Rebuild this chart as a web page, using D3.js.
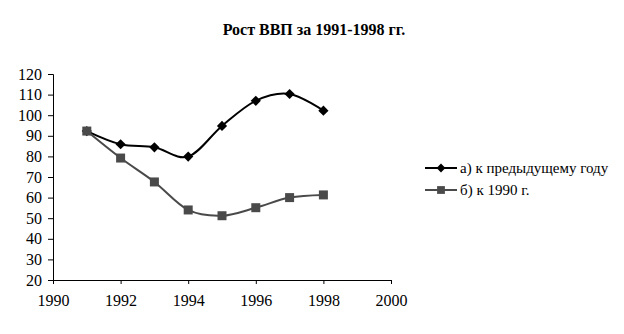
<!DOCTYPE html>
<html>
<head>
<meta charset="utf-8">
<script src="https://cdn.jsdelivr.net/npm/d3@7"></script>
<style>
  body { margin: 0; background: #fff; }
  svg text { font-family: "Times New Roman", "Liberation Serif", "DejaVu Serif", serif; fill: #000; }
</style>
</head>
<body>
<div class="canvas"></div>
<script>
// data
const years = [1991, 1992, 1993, 1994, 1995, 1996, 1997, 1998]
const prevYear = [92.3, 85.9, 84.4, 79.9, 94.8, 107, 110.3, 102.2]
const to1990 = [92.3, 79.2, 67.6, 54, 51.2, 55.1, 60, 61.3]
const seriesNames = ['а) к предыдущему году', 'б) к 1990 г.']
const xTicks = [1990, 1992, 1994, 1996, 1998, 2000]
const yTicks = [20, 30, 40, 50, 60, 70, 80, 90, 100, 110, 120]

const dims = {width: 624, height: 334}
const plot = {left: 53, right: 391, top: 74, bottom: 280}

const svg = d3.select('.canvas')
    .append('svg')
    .attr('width', dims.width)
    .attr('height', dims.height)

svg.append('text')
    .attr('x', 314)
    .attr('y', 35)
    .attr('text-anchor', 'middle')
    .style('font-size', '16px')
    .style('font-weight', 'bold')
    .text('Рост ВВП за 1991-1998 гг.')

const x = d3.scaleLinear().domain([1990, 2000]).range([plot.left, plot.right])
const y = d3.scaleLinear().domain([20, 120]).range([plot.bottom, plot.top])

svg.append('g')
    .attr('transform', `translate(0,${plot.bottom})`)
    .call(d3.axisBottom(x).tickValues(xTicks).tickFormat(d3.format('d')).tickSize(4).tickPadding(11))
svg.append('g')
    .attr('transform', `translate(${plot.left},0)`)
    .call(d3.axisLeft(y).tickValues(yTicks).tickSize(5).tickPadding(6))

svg.selectAll('.domain').attr('stroke', '#000')
svg.selectAll('.tick line').attr('stroke', '#000')
svg.selectAll('.tick text')
    .attr('fill', '#000')
    .style('font-size', '16px')
svg.selectAll('g').attr('font-family', null).attr('font-size', null)

const series = [
  {name: seriesNames[0], values: prevYear, colour: '#000', shape: d3.symbolSquare, size: 52, rot: 45},
  {name: seriesNames[1], values: to1990, colour: '#4a4a4a', shape: d3.symbolSquare, size: 81, rot: 0}
]

const line = d3.line()
    .x((d, i) => x(years[i]))
    .y(d => y(d))
    .curve(d3.curveCardinal.tension(0))

series.forEach(s => {
  const g = svg.append('g')
  g.append('path')
      .attr('d', line(s.values))
      .attr('fill', 'none')
      .attr('stroke', s.colour)
      .attr('stroke-width', 2)
  g.selectAll('path.pt')
      .data(s.values)
      .enter()
      .append('path')
      .attr('class', 'pt')
      .attr('transform', (d, i) => `translate(${x(years[i])},${y(d)}) rotate(${s.rot})`)
      .attr('d', d3.symbol().type(s.shape).size(s.size))
      .attr('fill', s.colour)
})

// legend
const legendGroup = svg.append('g').attr('transform', 'translate(425,168)')
series.forEach((s, i) => {
  const row = legendGroup.append('g').attr('transform', `translate(0,${i * 22})`)
  row.append('line')
      .attr('x1', 0).attr('x2', 32)
      .attr('stroke', s.colour)
      .attr('stroke-width', 2)
  row.append('path')
      .attr('transform', `translate(16,0) rotate(${s.rot})`)
      .attr('d', d3.symbol().type(s.shape).size(s.size * 0.75))
      .attr('fill', s.colour)
  row.append('text')
      .attr('x', 35)
      .attr('y', 5)
      .style('font-size', '15px')
      .text(s.name)
})
</script>
</body>
</html>
